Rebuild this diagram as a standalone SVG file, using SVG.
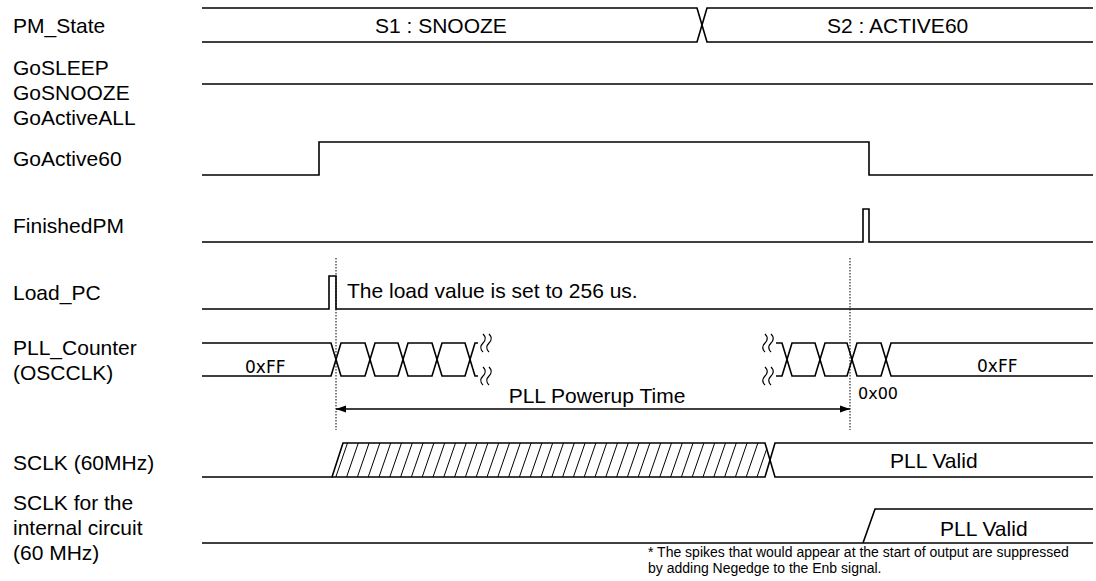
<svg xmlns="http://www.w3.org/2000/svg" width="1096" height="581" viewBox="0 0 1096 581">
<style>
.sig{fill:none;stroke:#000;stroke-width:1.6;stroke-linejoin:miter}
.lbl{font-family:"Liberation Sans",Arial,sans-serif;font-size:21px;fill:#000}
.val{font-family:"DejaVu Sans",sans-serif;font-size:17px;fill:#000}
.note{font-family:"Liberation Sans",Arial,sans-serif;font-size:14px;fill:#000}
.dot{stroke:#000;stroke-width:1;stroke-dasharray:1.5 1.5;fill:none}
.hatch{stroke:#000;stroke-width:1;fill:none}
.brk{fill:none;stroke:#000;stroke-width:1.2}
</style>
<defs>
<marker id="ah" markerUnits="userSpaceOnUse" markerWidth="11" markerHeight="8" refX="10" refY="4" orient="auto-start-reverse">
<path d="M0,0.5 L10,4 L0,7.5 z" fill="#000"/>
</marker>
<clipPath id="hclip"><polygon points="332,477 343,443 766,443 770,460 766,477"/></clipPath>
</defs>
<rect width="1096" height="581" fill="#fff"/>

<g id="labels">
<text class="lbl" x="13" y="32.5">PM_State</text>
<text class="lbl" x="13" y="74.5">GoSLEEP</text>
<text class="lbl" x="13" y="99.5">GoSNOOZE</text>
<text class="lbl" x="13" y="124.5">GoActiveALL</text>
<text class="lbl" x="13" y="165.5">GoActive60</text>
<text class="lbl" x="13" y="232.5">FinishedPM</text>
<text class="lbl" x="13" y="299.5">Load_PC</text>
<text class="lbl" x="13" y="354.5">PLL_Counter</text>
<text class="lbl" x="13" y="379.5">(OSCCLK)</text>
<text class="lbl" x="13" y="469.5">SCLK (60MHz)</text>
<text class="lbl" x="13" y="509.5">SCLK for the</text>
<text class="lbl" x="13" y="534.5">internal circuit</text>
<text class="lbl" x="13" y="559.5">(60 MHz)</text>
</g>

<g id="pm_state">
<path class="sig" d="M202 8 H697 L707 42 H1093"/>
<path class="sig" d="M202 42 H697 L707 8 H1093"/>
<text class="lbl" x="375" y="33">S1 : SNOOZE</text>
<text class="lbl" x="827" y="33">S2 : ACTIVE60</text>
</g>

<g id="gosleep">
<path class="sig" d="M202 84 H1093"/>
</g>

<g id="goactive60">
<path class="sig" d="M202 175 H319 V142 H869 V175 H1093"/>
</g>

<g id="finishedpm">
<path class="sig" d="M202 242 H863 V209 H869 V242 H1093"/>
</g>

<g id="load_pc">
<path class="sig" d="M202 309 H329 V276 H336 V309 H1093"/>
<text class="lbl" x="347" y="298">The load value is set to 256 us.</text>
</g>

<g id="pll_counter">
<polyline class="sig" points="202,343 331,343 341,376 365,376 375,343 398,343 408,376 432,376 442,343 465,343 475,376 478,376"/>
<polyline class="sig" points="202,376 331,376 341,343 365,343 375,376 398,376 408,343 432,343 442,376 465,376 475,343 478,343"/>
<polyline class="sig" points="776,343 782,343 792,376 815,376 825,343 847,343 857,376 881,376 891,343 1093,343"/>
<polyline class="sig" points="776,376 782,376 792,343 815,343 825,376 847,376 857,343 881,343 891,376 1093,376"/>
<path class="brk" d="M483 334 c3,3 3,6 0,9 c-3,3 -3,6 0,9 M489 334 c3,3 3,6 0,9 c-3,3 -3,6 0,9 M483 367 c3,3 3,6 0,9 c-3,3 -3,6 0,9 M489 367 c3,3 3,6 0,9 c-3,3 -3,6 0,9"/>
<path class="brk" d="M765 334 c3,3 3,6 0,9 c-3,3 -3,6 0,9 M771 334 c3,3 3,6 0,9 c-3,3 -3,6 0,9 M765 367 c3,3 3,6 0,9 c-3,3 -3,6 0,9 M771 367 c3,3 3,6 0,9 c-3,3 -3,6 0,9"/>
<text class="val" x="245" y="373">0xFF</text>
<text class="val" x="977" y="372">0xFF</text>
<text class="val" x="858" y="399" style="font-size:16px">0x00</text>
</g>

<g id="sclk">
<path class="hatch" clip-path="url(#hclip)" d="M325 477l11.7-34M335.8 477l11.7-34M346.6 477l11.7-34M357.4 477l11.7-34M368.2 477l11.7-34M379 477l11.7-34M389.8 477l11.7-34M400.6 477l11.7-34M411.4 477l11.7-34M422.2 477l11.7-34M433 477l11.7-34M443.8 477l11.7-34M454.6 477l11.7-34M465.4 477l11.7-34M476.2 477l11.7-34M487 477l11.7-34M497.8 477l11.7-34M508.6 477l11.7-34M519.4 477l11.7-34M530.2 477l11.7-34M541 477l11.7-34M551.8 477l11.7-34M562.6 477l11.7-34M573.4 477l11.7-34M584.2 477l11.7-34M595 477l11.7-34M605.8 477l11.7-34M616.6 477l11.7-34M627.4 477l11.7-34M638.2 477l11.7-34M649 477l11.7-34M659.8 477l11.7-34M670.6 477l11.7-34M681.4 477l11.7-34M692.2 477l11.7-34M703 477l11.7-34M713.8 477l11.7-34M724.6 477l11.7-34M735.4 477l11.7-34M746.2 477l11.7-34M757 477l11.7-34M767.8 477l11.7-34"/>
<path class="sig" d="M202 477 H332 L343 443 H765 L775 477 H1093"/>
<path class="sig" d="M332 477 H765 L775 443 H1093"/>
<text class="lbl" x="890" y="468">PLL Valid</text>
</g>

<g id="sclk_internal">
<path class="sig" d="M202 543 H1093"/>
<path class="sig" d="M863 543 L875 509 H1093"/>
<text class="lbl" x="940" y="536">PLL Valid</text>
<text class="note" x="648" y="557">* The spikes that would appear at the start of output are suppressed</text>
<text class="note" x="648" y="573">by adding Negedge to the Enb signal.</text>
</g>

<g id="connectors">
<line class="dot" x1="336" y1="258" x2="336" y2="430"/>
<line class="dot" x1="850" y1="258" x2="850" y2="430"/>
<line x1="336" y1="409" x2="850" y2="409" stroke="#000" stroke-width="1.4" marker-start="url(#ah)" marker-end="url(#ah)"/>
<text class="lbl" x="597" y="403" text-anchor="middle">PLL Powerup Time</text>
</g>
</svg>
